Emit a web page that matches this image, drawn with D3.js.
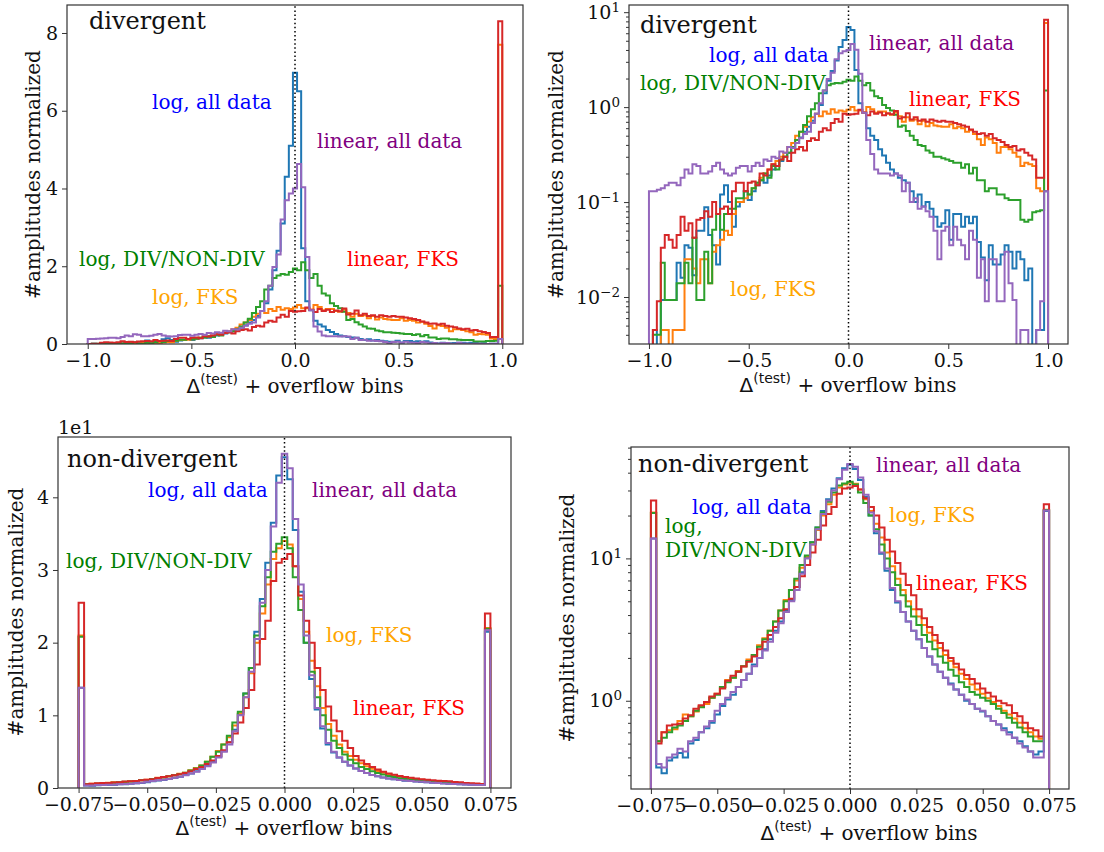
<!DOCTYPE html>
<html><head><meta charset="utf-8">
<script src="https://cdn.jsdelivr.net/npm/d3@7"></script>
<style>body{margin:0;background:#fff}svg{display:block}</style>
</head><body>
<svg id="chart" width="1104" height="852"></svg>
<script>
// ---------- series / categories ----------
const seriesNames = ["log, all data", "log, FKS", "log, DIV/NON-DIV", "linear, FKS", "linear, all data"];
const lineColors = ["#1f77b4", "#ff7f0e", "#2ca02c", "#d62728", "#9467bd"];
const textColors = ["#0000ff", "#ffa500", "#008000", "#ff0000", "#800080"];
const panelTitles = ["divergent", "non-divergent"];

// ---------- divergent data: 101 bins on [-1, 1] (last bin = overflow) ----------
const divRange = [-1, 1];
const divBinCount = 101;
const divBlue = [0.0015,0.0045,0.002,0.0093,0.0093,0.0093,0.0093,0.023,0.016,0.035,
 0.033,0.017,0.05,0.05,0.088,0.045,0.035,0.022,0.12,0.15,
 0.10,0.055,0.09,0.10,0.13,0.105,0.13,0.15,0.17,0.16,
 0.19,0.22,0.24,0.27,0.30,0.33,0.38,0.42,0.48,0.55,
 0.62,0.72,0.85,1.05,1.4,1.9,2.4,3.1,4.3,5.1,
 6.98,
 6.5,2.46,1.1,0.87,0.6,0.5,0.45,0.36,0.31,
 0.26,0.22,0.2,0.18,0.17,0.16,0.13,0.1,0.12,0.09,
 0.1,0.085,0.07,0.055,0.06,
 0.082,0.04,0.075,0.075,0.055,0.07,0.06,0.07,0.038,0.026,
 0.015,0.035,0.022,0.022,0.028,0.035,0.03,0.02,0.03,0.025,
 0.015,0.02,0.0015,0.0045,0.0045,
 0.13];
const divOrange = [0.001,0.001,0.0015,0.0045,0.0045,0.002,0.0045,0.0045,0.0045,0.025,
 0.025,0.02,0.014,0.025,0.025,0.014,0.03,0.035,0.04,0.05,
 0.045,0.075,0.1,0.1,0.11,0.12,0.14,0.16,
 0.18,0.2,0.22,0.25,0.27,0.3,0.33,0.38,0.42,0.5,0.55,0.62,0.7,0.78,0.85,0.8,0.9,0.85,0.95,0.88,0.92,0.9,
 0.94,1.0,0.92,0.92,0.88,1.0,0.95,0.87,0.9,0.9,0.85,0.83,0.88,0.8,0.7,0.78,0.72,0.74,0.66,0.72,0.63,0.68,0.64,0.63,0.62,0.62,
 0.66,0.6,0.62,0.6,0.55,0.57,0.52,0.46,0.4,0.48,0.46,0.42,0.33,0.38,0.38,0.36,0.33,0.3,0.24,0.26,0.25,0.24,0.14,0.13,
 7.7];
const divGreen = [0.002,0.004,0.004,0.023,0.0093,0.0093,0.0093,0.014,0.014,0.023,
 0.014,0.042,0.0093,0.0093,0.03,0.014,0.051,0.075,0.051,0.075,
 0.085,0.085,0.11,0.11,0.13,0.12,0.14,0.16,
 0.17,0.2,0.18,0.24,0.22,0.28,0.3,0.33,0.38,0.45,0.55,0.65,0.8,0.95,1.1,1.4,1.5,1.7,1.76,1.8,1.78,1.85,
 1.94,1.9,2.1,1.9,1.7,1.8,1.5,1.3,1.25,1.05,0.98,0.92,0.83,0.62,0.64,0.56,0.5,0.45,0.4,0.39,0.35,0.33,0.3,0.3,0.29,0.28,
 0.27,0.26,0.26,0.23,0.25,0.20,0.23,0.17,0.17,0.13,0.14,0.14,0.12,0.12,0.11,0.105,0.105,0.105,0.065,0.062,0.065,0.078,0.08,0.082,
 1.5];
const divRed = [0.003,0.0045,0.009,0.033,0.045,0.04,0.033,0.045,0.07,0.05,
 0.06,0.042,0.065,0.068,0.08,0.07,0.1,0.075,0.085,0.09,
 0.075,0.13,0.16,0.16,0.13,0.16,0.165,0.15,
 0.2,0.19,0.22,0.25,0.24,0.28,0.3,0.27,0.33,0.36,0.38,0.35,0.44,0.47,0.45,0.55,0.6,0.57,0.68,0.75,0.7,0.85,
 0.83,0.84,0.85,0.94,0.88,0.82,0.9,0.85,0.88,0.82,0.86,0.84,0.91,0.76,0.78,0.86,0.74,0.78,0.72,0.74,0.7,0.74,0.72,0.7,0.72,0.7,
 0.7,0.68,0.66,0.64,0.62,0.58,0.55,0.52,0.53,0.5,0.52,0.47,0.45,0.43,0.4,0.38,0.39,0.35,0.36,0.33,0.31,0.28,0.18,0.18,
 8.3];
const divPurple = [0.13,0.13,0.135,0.14,0.15,0.16,0.16,0.15,0.18,0.22,
 0.20,0.25,0.24,0.20,0.20,0.21,0.24,0.26,0.22,0.20,
 0.19,0.20,0.23,0.24,0.24,0.21,0.24,0.26,0.24,0.28,
 0.27,0.30,0.29,0.34,0.33,0.38,0.37,0.42,0.47,0.52,
 0.55,0.68,0.85,1.1,1.5,1.98,2.3,3.2,3.7,3.87,
 4.0,
 4.63,4.03,2.24,0.87,0.45,0.32,0.22,0.2,0.2,
 0.2,0.19,0.2,0.19,0.13,0.16,0.1,0.11,0.085,0.09,
 0.08,0.07,0.05,0.025,0.05,
 0.055,0.035,0.055,0.04,0.035,0.025,0.05,0.04,0.016,0.025,
 0.009,0.025,0.025,0.009,0.009,0.03,0.014,0.0093,0.002,0.0045,
 0.0045,0.002,0.002,0.0045,0.009,
 0.13];

// ---------- non-divergent data: 75 bins on [-0.075, 0.075] (first/last = overflow) ----------
const ndRange = [-0.075, 0.075];
const ndBinCount = 75;
const ndBlue = [13.8,
 0.34,0.31,0.38,0.40,0.43,0.40,0.50,0.53,0.60,0.64,
 0.70,0.80,0.92,1.02,1.1,1.25,1.4,1.55,1.8,2.0,
 2.3,2.7,3.1,3.6,4.3,5.1,6.3,8.0,10.2,13.0,
 16.5,21.5,26.0,31.0,36.5,43.0,45.5,42.5,35.5,27.0,
 20.0,15.0,10.8,8.2,6.0,4.9,4.2,3.6,3.1,2.7,
 2.35,2.05,1.8,1.6,1.45,1.32,1.2,1.1,1.0,0.95,
 0.88,0.84,0.78,0.72,0.68,0.64,0.6,0.55,0.52,0.48,
 0.44,0.42,0.44,
 21.5];
const ndOrange = [21.0,
 0.52,0.6,0.62,0.63,0.72,0.8,0.78,0.84,0.92,0.95,
 1.05,1.12,1.25,1.4,1.45,1.62,1.75,1.95,2.1,2.45,
 2.75,3.1,3.6,4.3,5.1,6.0,7.0,8.6,10.3,12.5,
 15.8,20.0,24.0,28.0,31.5,33.0,34.0,33.5,30.5,26.0,
 21.5,17.5,14.0,11.0,8.8,7.2,6.0,5.0,4.4,3.9,
 3.4,3.0,2.65,2.35,2.1,1.9,1.72,1.55,1.42,1.3,
 1.2,1.12,1.04,0.98,0.92,0.85,0.8,0.75,0.7,0.64,
 0.6,0.56,0.54,
 22.0];
const ndGreen = [20.8,
 0.52,0.55,0.60,0.65,0.67,0.72,0.78,0.85,0.9,0.98,
 1.05,1.1,1.25,1.35,1.45,1.6,1.75,1.9,2.1,2.4,
 2.7,3.1,3.6,4.3,5.0,6.0,7.2,9.0,10.5,13.0,
 16.5,21.0,25.0,29.0,32.5,33.6,34.5,33.0,29.0,24.5,
 20.0,16.0,12.5,10.0,8.0,6.5,5.5,4.6,3.9,3.4,
 2.9,2.6,2.3,2.05,1.85,1.65,1.5,1.35,1.25,1.15,
 1.1,1.05,1.0,0.95,0.88,0.82,0.76,0.7,0.65,0.6,
 0.56,0.52,0.52,
 21.9];
const ndRed = [25.5,
 0.5,0.6,0.67,0.68,0.69,0.75,0.79,0.88,0.93,0.98,
 1.07,1.12,1.22,1.38,1.5,1.6,1.74,1.88,2.05,2.3,
 2.6,2.9,3.3,3.8,4.4,5.2,6.3,7.5,9.0,11.0,
 13.5,17.0,20.5,23.0,28.5,31.0,31.5,32.2,30.5,26.5,
 23.0,20.0,16.5,13.5,11.2,9.3,7.8,6.5,5.5,4.4,
 3.8,3.3,2.9,2.55,2.25,2.0,1.82,1.66,1.52,1.42,
 1.32,1.22,1.14,1.07,1.0,0.96,0.93,0.82,0.78,0.7,
 0.64,0.62,0.56,
 24.0];
const ndPurple = [13.8,
 0.36,0.34,0.40,0.42,0.46,0.44,0.52,0.55,0.60,0.66,
 0.72,0.85,0.95,1.05,1.15,1.25,1.4,1.55,1.75,2.0,
 2.25,2.6,3.0,3.5,4.2,5.0,6.0,7.8,10.0,12.5,
 16.0,20.5,25.5,30.0,36.0,42.0,46.0,44.0,37.0,28.0,
 21.0,15.5,11.0,8.5,6.2,5.0,4.2,3.6,3.1,2.7,
 2.35,2.05,1.8,1.6,1.45,1.3,1.2,1.1,1.02,0.95,
 0.88,0.85,0.78,0.72,0.68,0.62,0.58,0.55,0.50,0.47,
 0.44,0.40,0.40,
 21.7];

// ---------- tick values ----------
const divXTicks = [-1, -0.5, 0, 0.5, 1];
const ndXTicks = [-0.075, -0.05, -0.025, 0, 0.025, 0.05, 0.075];
const divLinYTicks = [0, 2, 4, 6, 8];
const divLogYTicks = [0.01, 0.1, 1, 10];
const ndLinYTicks = [0, 10, 20, 30, 40];
const ndLogYTicks = [1, 10];

const datasets = {
  div: {range: divRange, n: divBinCount, series: [divBlue, divOrange, divGreen, divRed, divPurple]},
  nd:  {range: ndRange,  n: ndBinCount,  series: [ndBlue, ndOrange, ndGreen, ndRed, ndPurple]}
};

// ---------- layout (pixel boxes, label placement) ----------
const layout = [
  {title: 0, set: "div", log: false, box: {l: 67, r: 523, t: 5, b: 344}, xDom: [-1.1, 1.1], yDom: [0, 8.72],
   xTicks: divXTicks, xFmt: d3.format(".1f"), yTicks: divLinYTicks, yFmt: d => String(d),
   xlab: [295, 393], ylab: [40, 174.5], titlePos: [89, 29],
   labels: [[0, 152, 109], [4, 317, 148], [2, 79, 266], [1, 152, 304], [3, 347, 266]]},
  {title: 0, set: "div", log: true, box: {l: 629, r: 1068, t: 5, b: 344}, xDom: [-1.1, 1.1], yDom: [0.0032, 11.9],
   xTicks: divXTicks, xFmt: d3.format(".1f"), yTicks: divLogYTicks,
   xlab: [848, 392], ylab: [563, 174.5], titlePos: [640, 33],
   labels: [[0, 709, 62], [4, 869, 50], [2, 640, 90], [3, 909, 106], [1, 730, 296]]},
  {title: 1, set: "nd", log: false, box: {l: 58, r: 511, t: 437, b: 788}, xDom: [-0.0825, 0.0825], yDom: [0, 48.3],
   xTicks: ndXTicks, xFmt: d3.format(".3f"), yTicks: ndLinYTicks, yFmt: d => String(d / 10), offsetText: "1e1",
   xlab: [284, 835], ylab: [23, 612], titlePos: [67, 467],
   labels: [[0, 148, 497], [4, 312, 497], [2, 66, 568], [1, 326, 642], [3, 353, 715]]},
  {title: 1, set: "nd", log: true, box: {l: 631, r: 1069, t: 447, b: 789}, xDom: [-0.0825, 0.0825], yDom: [0.24, 60.6],
   xTicks: ndXTicks, xFmt: d3.format(".3f"), yTicks: ndLogYTicks,
   xlab: [869, 840], ylab: [574, 618], titlePos: [638, 472],
   labels: [[4, 876, 472], [0, 692, 514], [2, 665, 533, "log,"], [2, 665, 557, "DIV/NON-DIV"], [1, 889, 522], [3, 916, 590]]}
];

const SERIF = "'DejaVu Serif', serif";
const SANS = "'DejaVu Sans', sans-serif";
const svg = d3.select("#chart");
const defs = svg.append("defs");
const supMinus = s => s.replace("-", "\u2212");

layout.forEach((p, pi) => {
  const ds = datasets[p.set];
  const B = p.box;
  const x = d3.scaleLinear().domain(p.xDom).range([B.l, B.r]);
  const y = (p.log ? d3.scaleLog() : d3.scaleLinear()).domain(p.yDom).range([B.b, B.t]);
  const g = svg.append("g");

  defs.append("clipPath").attr("id", "clip" + pi)
    .append("rect").attr("x", B.l).attr("y", B.t).attr("width", B.r - B.l).attr("height", B.b - B.t);

  // bin edges
  const edges = d3.range(ds.n + 1).map(i => ds.range[0] + i * (ds.range[1] - ds.range[0]) / ds.n);
  const base = p.log ? p.yDom[0] / 100 : 0;
  const line = d3.line().x(d => x(d[0])).y(d => y(d[1]));

  const hg = g.append("g").attr("clip-path", `url(#clip${pi})`);
  ds.series.forEach((vals, si) => {
    const pts = [[edges[0], base]];
    vals.forEach((v, i) => { pts.push([edges[i], v]); pts.push([edges[i + 1], v]); });
    pts.push([edges[edges.length - 1], base]);
    hg.append("path").attr("d", line(pts)).attr("fill", "none")
      .attr("stroke", lineColors[si]).attr("stroke-width", 2).attr("stroke-linejoin", "miter");
  });

  // dotted zero line
  hg.append("line").attr("x1", x(0)).attr("x2", x(0)).attr("y1", B.b).attr("y2", B.t)
    .attr("stroke", "#000").attr("stroke-width", 1.5).attr("stroke-dasharray", "1.5,2.6");

  // x axis
  const xa = g.append("g").attr("transform", `translate(0,${B.b})`)
    .call(d3.axisBottom(x).tickValues(p.xTicks).tickFormat(p.xFmt).tickSize(5).tickPadding(5));
  // y axis
  let ya;
  if (p.log) {
    const [lo, hi] = p.yDom;
    const minors = [];
    for (let e = Math.floor(Math.log10(lo)); e <= Math.ceil(Math.log10(hi)); e++) {
      for (let m = 2; m <= 9; m++) { const v = m * Math.pow(10, e); if (v >= lo && v <= hi) minors.push(v); }
    }
    g.append("g").attr("transform", `translate(${B.l},0)`)
      .call(d3.axisLeft(y).tickValues(minors).tickFormat("").tickSize(3))
      .call(s => s.select(".domain").remove())
      .call(s => s.selectAll("line").attr("stroke", "#333"));
    ya = g.append("g").attr("transform", `translate(${B.l},0)`)
      .call(d3.axisLeft(y).tickValues(p.yTicks).tickSize(5).tickPadding(4).tickFormat(d => String(Math.round(Math.log10(d)))));
    ya.selectAll(".tick text").each(function () {
      const t = d3.select(this); const ex = t.text(); t.text(null);
      t.append("tspan").text("10");
      t.append("tspan").attr("dy", -7).style("font-size", "13.5px").text(supMinus(ex));
    });
  } else {
    ya = g.append("g").attr("transform", `translate(${B.l},0)`)
      .call(d3.axisLeft(y).tickValues(p.yTicks).tickFormat(p.yFmt).tickSize(5).tickPadding(4));
  }
  [xa, ya].forEach(a => {
    a.select(".domain").remove();
    a.attr("font-family", null).attr("font-size", null);
    a.selectAll("line").attr("stroke", "#333");
    a.selectAll("text").style("font-family", SERIF).style("font-size", "19px").attr("fill", "#111");
  });

  // frame
  g.append("rect").attr("x", B.l).attr("y", B.t).attr("width", B.r - B.l).attr("height", B.b - B.t)
    .attr("fill", "none").attr("stroke", "#333").attr("stroke-width", 1.2);

  // offset text
  if (p.offsetText) {
    g.append("text").attr("x", B.l).attr("y", B.t - 3).style("font-family", SERIF).style("font-size", "19px")
      .attr("fill", "#111").text(p.offsetText);
  }

  // axis labels
  const xl = g.append("text").attr("x", p.xlab[0]).attr("y", p.xlab[1]).attr("text-anchor", "middle")
    .style("font-size", "20px").attr("fill", "#111");
  xl.append("tspan").style("font-family", SANS).text("\u0394");
  xl.append("tspan").style("font-family", SANS).style("font-size", "14px").attr("dy", -9).text("(test)");
  xl.append("tspan").style("font-family", SERIF).attr("dy", 9).text(" + overflow bins");

  g.append("text").attr("transform", `translate(${p.ylab[0]},${p.ylab[1]}) rotate(-90)`)
    .attr("text-anchor", "middle").style("font-family", SERIF).style("font-size", "20px").attr("fill", "#111")
    .text("#amplitudes normalized");

  // title & series annotations
  g.append("text").attr("x", p.titlePos[0]).attr("y", p.titlePos[1]).style("font-family", SERIF)
    .style("font-size", "24px").attr("fill", "#111").text(panelTitles[p.title]);
  p.labels.forEach(([si, lx, ly, txt]) => {
    g.append("text").attr("x", lx).attr("y", ly).style("font-family", SERIF).style("font-size", "20px")
      .attr("fill", textColors[si]).text(txt || seriesNames[si]);
  });
});
</script>
</body></html>
